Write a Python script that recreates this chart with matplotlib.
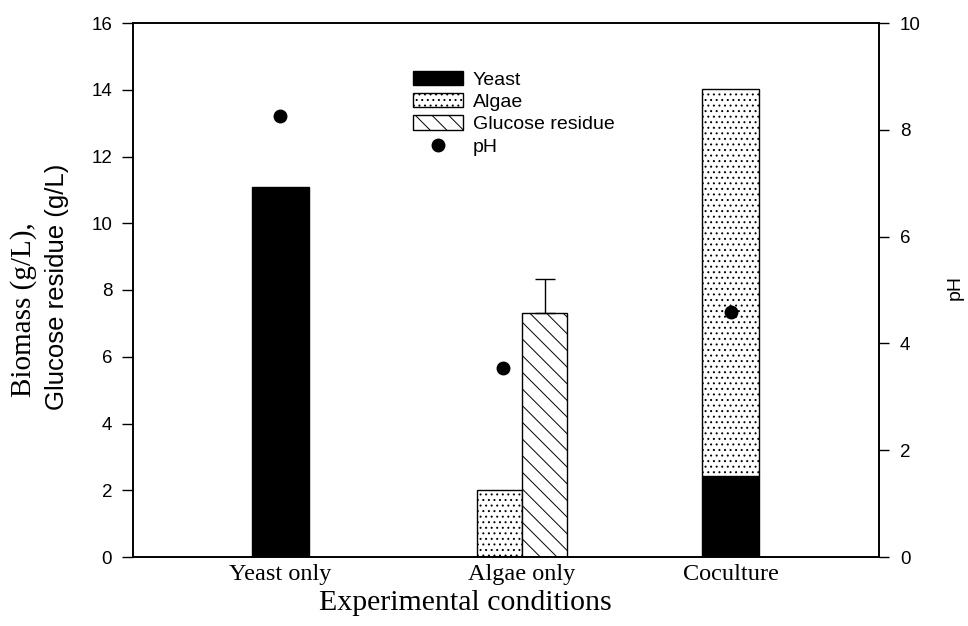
import matplotlib
matplotlib.use("Agg")
import matplotlib.pyplot as plt
from matplotlib.patches import Patch
from matplotlib.lines import Line2D

plt.rcParams['hatch.linewidth'] = 0.7

# Data
conditions = ["Yeast only", "Algae only", "Coculture"]
yeast_biomass = [11.1, 0.0, 2.43]
algae_biomass = [0.0, 2.0, 11.6]
glucose_residue = [0.0, 7.32, 0.0]
glucose_err = [0.0, 1.0, 0.0]
ph_values = [8.26, 3.54, 4.59]
ph_err = [0.05, 0.06, 0.05]

sans = "Liberation Sans"
serif = "Liberation Serif"
W, H = 968, 626

fig = plt.figure(figsize=(W / 100, H / 100), dpi=100)
ax = fig.add_axes([133 / W, 1 - 557 / H, 746 / W, 534 / H])
ax2 = ax.twinx()

# group centres and bar widths in axis units (0..4)
xc = [0.79, 2.086, 3.206]
w_full = 0.306
w_half = 0.243

# Yeast only
ax.bar(xc[0], yeast_biomass[0], width=w_full, color="black", edgecolor="black", linewidth=1)
# Algae only: algae biomass + glucose residue side by side
xa = xc[1] - w_half / 2
xg = xc[1] + w_half / 2
ax.bar(xa, algae_biomass[1], width=w_half, color="white", edgecolor="black",
       hatch="...", linewidth=1)
ax.bar(xg, glucose_residue[1], width=w_half, color="white", edgecolor="black",
       hatch="\\\\", linewidth=1)
ax.errorbar(xg, glucose_residue[1], yerr=[[0], [glucose_err[1]]], fmt="none",
            ecolor="black", elinewidth=1, capsize=7, capthick=1)
# Coculture: stacked yeast + algae
ax.bar(xc[2], yeast_biomass[2], width=w_full, color="black", edgecolor="black", linewidth=1)
ax.bar(xc[2], algae_biomass[2], bottom=yeast_biomass[2], width=w_full, color="white",
       edgecolor="black", hatch="...", linewidth=1)

# pH on right axis
ph_x = [xc[0], xa + 0.02, xc[2]]
ax2.errorbar(ph_x, ph_values, yerr=ph_err, fmt="o", color="black", markersize=9,
             capsize=3, elinewidth=1, zorder=5)

ax.set_xlim(0, 4)
ax.set_ylim(0, 16)
ax2.set_ylim(0, 10)
ax.set_yticks(range(0, 17, 2))
ax2.set_yticks(range(0, 11, 2))
ax.set_xticks(xc)
ax.set_xticklabels(conditions, fontfamily=serif, fontsize=17.5)
ax.tick_params(axis="x", length=0, pad=5)
ax.tick_params(axis="y", direction="out", length=8, width=1, labelsize=13.5, pad=7)
ax2.tick_params(axis="y", direction="out", length=7, width=1, labelsize=13.5, pad=8)
for lbl in ax.get_yticklabels() + ax2.get_yticklabels():
    lbl.set_fontfamily(sans)

for a in (ax, ax2):
    for s in a.spines.values():
        s.set_linewidth(1.2)

fig.text(465 / W, 1 - 603 / H, "Experimental conditions", fontfamily=serif,
         fontsize=21.5, ha="center", va="center")
fig.text(24 / W, 1 - 310 / H, "Biomass (g/L),", rotation=90, fontfamily=serif,
         fontsize=21, ha="center", va="center")
fig.text(57 / W, 1 - 287 / H, "Glucose residue (g/L)", rotation=90, fontfamily=sans,
         fontsize=18.5, ha="center", va="center")
fig.text(955 / W, 1 - 287 / H, "pH", rotation=90, fontfamily=sans,
         fontsize=14, ha="center", va="center")

handles = [
    Patch(facecolor="black", edgecolor="black", label="Yeast"),
    Patch(facecolor="white", edgecolor="black", hatch="...", label="Algae"),
    Patch(facecolor="white", edgecolor="black", hatch="\\\\", label="Glucose residue"),
    Line2D([], [], marker="o", color="black", linestyle="none", markersize=9, label="pH"),
]
leg = ax.legend(handles=handles, loc="upper left", bbox_to_anchor=(0.375, 0.91),
                frameon=False, prop={"family": sans, "size": 14},
                borderaxespad=0, borderpad=0,
                handlelength=2.6, handleheight=0.75, handletextpad=0.5, labelspacing=0.22)

fig.savefig("out.png", dpi=100)
